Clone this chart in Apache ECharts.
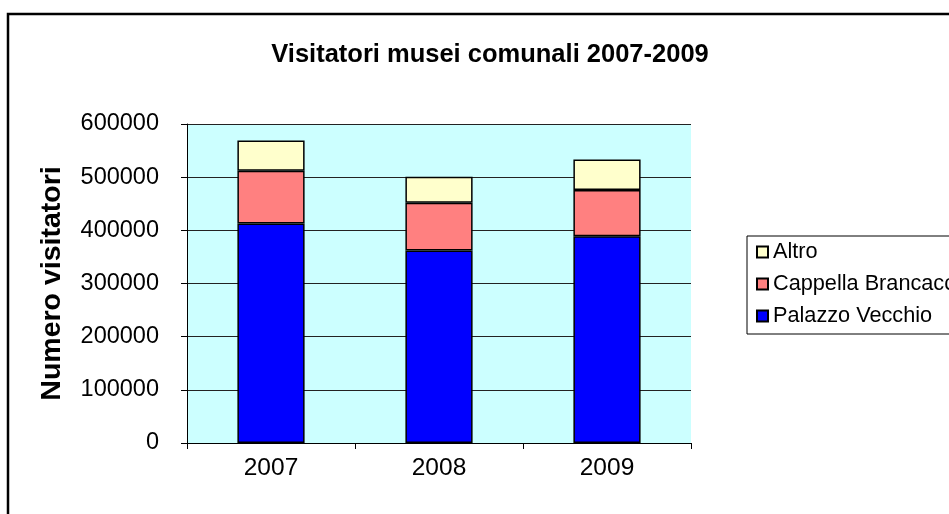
<!DOCTYPE html>
<html>
<head>
<meta charset="utf-8">
<script src="https://cdn.jsdelivr.net/npm/echarts@6/dist/echarts.min.js"></script>
<style>
  html, body { margin: 0; padding: 0; background: #fff; }
  #chart { width: 949px; height: 514px; }
</style>
</head>
<body>
<div id="chart"></div>
<script>
const years = ['2007', '2008', '2009'];
const palazzoVecchio = [413000, 362000, 389000];
const cappellaBrancacci = [99000, 90000, 87000];
const altro = [57000, 49000, 57000];
const legendNames = ['Altro', 'Cappella Brancacci', 'Palazzo Vecchio'];

const font = 'Liberation Sans, Arial, sans-serif';

const chart = echarts.init(document.getElementById('chart'), null, {renderer: 'canvas'});

const barStyle = color => ({
    color: color,
    borderColor: '#000',
    borderWidth: 1.5
});

chart.setOption({
    animation: false,
    backgroundColor: '#fff',
    textStyle: {fontFamily: font},
    graphic: [{
        type: 'rect',
        shape: {x: 8, y: 14, width: 1000, height: 600},
        style: {fill: 'none', stroke: '#000', lineWidth: 2.5},
        silent: true
    }],
    title: {
        text: 'Visitatori musei comunali 2007-2009',
        left: 485,
        textAlign: 'center',
        top: 37,
        textStyle: {fontFamily: font, fontSize: 25.5, fontWeight: 'bold', color: '#000'}
    },
    legend: {
        orient: 'vertical',
        left: 747,
        top: 236,
        data: legendNames,
        icon: 'rect',
        itemWidth: 11,
        itemHeight: 11,
        itemGap: 10,
        padding: [5, 20, 7, 9],
        borderColor: '#000',
        borderWidth: 1,
        backgroundColor: '#fff',
        textStyle: {fontFamily: font, fontSize: 21.7, color: '#000'}
    },
    grid: {
        left: 187,
        top: 124,
        right: 258,
        bottom: 71,
        show: true,
        backgroundColor: '#ccffff',
        borderWidth: 0,
        containLabel: false
    },
    xAxis: {
        type: 'category',
        data: years,
        axisLine: {lineStyle: {color: '#000', width: 1}},
        axisTick: {show: true, length: 6, lineStyle: {color: '#000'}},
        axisLabel: {fontFamily: font, fontSize: 24.5, color: '#000', margin: 13}
    },
    yAxis: {
        type: 'value',
        min: 0,
        max: 600000,
        interval: 100000,
        name: 'Numero visitatori',
        nameLocation: 'middle',
        nameRotate: 90,
        nameGap: 120,
        nameTextStyle: {fontFamily: font, fontSize: 28.5, fontWeight: 'bold', color: '#000'},
        axisLine: {show: true, lineStyle: {color: '#000', width: 1}},
        axisTick: {show: true, inside: false, length: 6, lineStyle: {color: '#000'}},
        axisLabel: {fontFamily: font, fontSize: 23.5, color: '#000', margin: 28, formatter: v => String(v)},
        splitLine: {show: true, lineStyle: {color: '#222', width: 1}}
    },
    series: [
        {name: 'Palazzo Vecchio', type: 'bar', stack: 'tot', barWidth: '40%', data: palazzoVecchio, itemStyle: barStyle('#0000ff')},
        {name: 'Cappella Brancacci', type: 'bar', stack: 'tot', data: cappellaBrancacci, itemStyle: barStyle('#ff8080')},
        {name: 'Altro', type: 'bar', stack: 'tot', data: altro, itemStyle: barStyle('#ffffcc')}
    ]
});
</script>
</body>
</html>
